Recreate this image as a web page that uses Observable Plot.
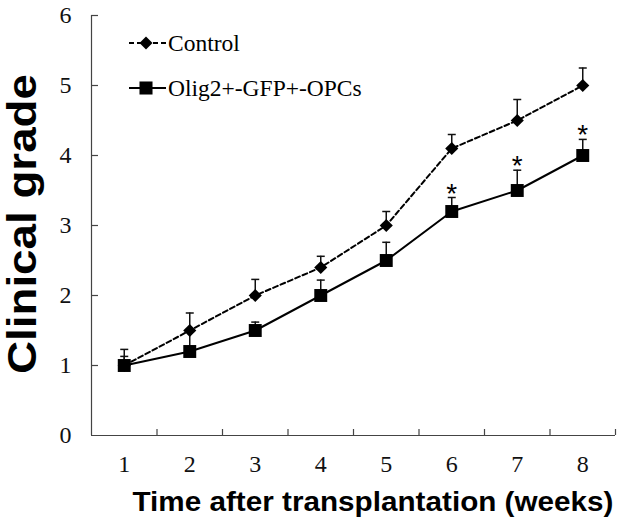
<!DOCTYPE html>
<html>
<head>
<meta charset="utf-8">
<script src="https://cdn.jsdelivr.net/npm/d3@7"></script>
<script src="https://cdn.jsdelivr.net/npm/@observablehq/plot@0.6"></script>
<style>
  html, body { margin: 0; padding: 0; background: #fff; }
  #chart { width: 622px; height: 527px; }
</style>
</head>
<body>
<div id="chart"></div>
<script>
// ---- data ----
const weeks = [1, 2, 3, 4, 5, 6, 7, 8];
const controlMean = [1.0, 1.5, 2.0, 2.4, 3.0, 4.1, 4.5, 5.0];
const controlErr  = [0.23, 0.25, 0.23, 0.16, 0.2, 0.2, 0.3, 0.25];
const opcMean     = [1.0, 1.2, 1.5, 2.0, 2.5, 3.2, 3.5, 4.0];
const opcErr      = [0.13, 0.3, 0.12, 0.22, 0.26, 0.2, 0.29, 0.23];
const significantWeeks = [6, 7, 8];
const seriesNames = ["Control", "Olig2+-GFP+-OPCs"];
const yTicks = [0, 1, 2, 3, 4, 5, 6];
const xDomain = [0.5, 8.5];
const yDomain = [0, 6];
const xTickBounds = [1.5, 2.5, 3.5, 4.5, 5.5, 6.5, 7.5, 8.5];
const yTitle = "Clinical grade";
const xTitle = "Time after transplantation (weeks)";

// ---- layout ----
const W = 622, H = 527;
const mL = 91, mR = 7, mT = 15, mB = 92;
const plotW = W - mL - mR, plotH = H - mT - mB;

const control = weeks.map((w, i) => ({week: w, mean: controlMean[i], err: controlErr[i]}));
const opc = weeks.map((w, i) => ({week: w, mean: opcMean[i], err: opcErr[i]}));
const both = control.concat(opc);

const capSymbol = {
  draw(context, size) {
    const w = Math.sqrt(size / Math.PI);
    context.moveTo(-w, 0);
    context.lineTo(w, 0);
  }
};

const serif = "'Liberation Serif', 'Times New Roman', serif";
const sans = "'Liberation Sans', Arial, sans-serif";
const axisColor = "#444";

const chart = Plot.plot({
  width: W, height: H,
  marginLeft: mL, marginRight: mR, marginTop: mT, marginBottom: mB,
  style: {background: "#fff", color: "#000", fontFamily: serif},
  x: {domain: xDomain, axis: null},
  y: {domain: yDomain, axis: null},
  marks: [
    // axis lines and inward ticks
    Plot.ruleX([xDomain[0]], {stroke: axisColor, strokeWidth: 1.2}),
    Plot.ruleY([yDomain[0]], {stroke: axisColor, strokeWidth: 1.2}),
    Plot.ruleY(yTicks.slice(1), {y: d => d, stroke: axisColor, strokeWidth: 1.2, insetRight: plotW - 7}),
    Plot.ruleX(xTickBounds, {x: d => d, stroke: axisColor, strokeWidth: 1.2, insetTop: plotH - 6}),
    Plot.axisY({ticks: yTicks, tickFormat: d3.format("d"), tickSize: 0, tickPadding: 20, fontSize: 24, fontFamily: serif, label: null, fill: "#111"}),
    Plot.axisX({ticks: weeks, tickFormat: d3.format("d"), tickSize: 0, tickPadding: 19, fontSize: 24, fontFamily: serif, label: null, fill: "#111"}),
    // error bars (upper only)
    Plot.ruleX(both, {x: "week", y1: "mean", y2: d => d.mean + d.err, stroke: "#111", strokeWidth: 1.5}),
    Plot.dot(both, {x: "week", y: d => d.mean + d.err, symbol: capSymbol, r: 4, stroke: "#111", strokeWidth: 1.5, fill: "none"}),
    // lines
    Plot.line(control, {x: "week", y: "mean", stroke: "#000", strokeWidth: 2, strokeDasharray: "5,3"}),
    Plot.line(opc, {x: "week", y: "mean", stroke: "#000", strokeWidth: 2}),
    // markers
    Plot.dot(control, {x: "week", y: "mean", symbol: "diamond2", r: 5.9, fill: "#000", stroke: "none"}),
    Plot.dot(opc, {x: "week", y: "mean", symbol: "square", r: 7.3, fill: "#000", stroke: "none"}),
    // significance asterisks
    Plot.text(opc.filter(d => significantWeeks.includes(d.week)), {
      x: "week", y: d => d.mean + d.err, text: () => "*",
      fontSize: 28, fontFamily: sans, lineAnchor: "bottom", dy: 5, fill: "#000"
    }),
    // axis titles
    Plot.text([yTitle], {
      text: d => d, frameAnchor: "left", textAnchor: "middle", dx: -68, dy: -1.5, rotate: -90,
      fontSize: 40, fontWeight: "bold", fontFamily: sans, lineAnchor: "middle", fill: "#000"
    }),
    Plot.text([xTitle], {
      text: d => d, frameAnchor: "bottom", textAnchor: "middle", dx: 19.5, dy: 75,
      fontSize: 27, fontWeight: "bold", fontFamily: sans, lineAnchor: "bottom", fill: "#000"
    })
  ]
});

document.getElementById("chart").appendChild(chart);

// stretch titles to match the reference's proportions
const svg = d3.select(chart.tagName.toLowerCase() === "svg" ? chart : chart.querySelector("svg"));
svg.selectAll("text").each(function () {
  const t = this.textContent;
  if (t === yTitle) d3.select(this).attr("textLength", 300).attr("lengthAdjust", "spacingAndGlyphs");
  if (t === xTitle) d3.select(this).attr("textLength", 481).attr("lengthAdjust", "spacingAndGlyphs");
});

// legend (inside the plot area, top-left)
const legend = svg.append("g").attr("class", "legend").attr("text-anchor", "start");
const rows = [
  {name: seriesNames[0], cy: 43, dash: "5,3", symbol: d3.symbolDiamond2, size: 108},
  {name: seriesNames[1], cy: 88, dash: null, symbol: d3.symbolSquare, size: 170}
];
rows.forEach(r => {
  const g = legend.append("g");
  g.append("line").attr("x1", 129).attr("x2", 166).attr("y1", r.cy).attr("y2", r.cy)
    .attr("stroke", "#000").attr("stroke-width", 2).attr("stroke-dasharray", r.dash);
  g.append("path").attr("d", d3.symbol(r.symbol, r.size)())
    .attr("transform", `translate(146,${r.cy})`).attr("fill", "#000");
  g.append("text").attr("x", 168).attr("y", r.cy).attr("dy", "0.33em")
    .attr("text-anchor", "start")
    .attr("font-family", serif).attr("font-size", 23.5).attr("fill", "#000").text(r.name);
});
</script>
</body>
</html>
